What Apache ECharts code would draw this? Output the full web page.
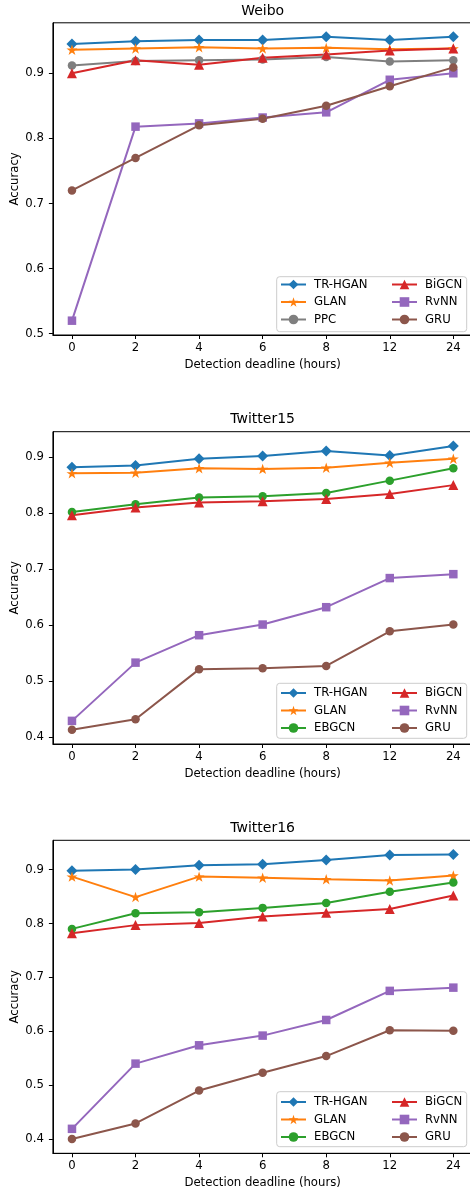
<!DOCTYPE html>
<html>
<head>
<meta charset="utf-8">
<script src="https://cdn.jsdelivr.net/npm/echarts@6/dist/echarts.min.js"></script>
<style>
  html, body { margin: 0; padding: 0; background: #fff; }
  #main { width: 470px; height: 1191px; }
</style>
</head>
<body>
<div id="main"></div>
<script>
var deadlines = ['0', '2', '4', '6', '8', '12', '24'];

// Weibo
var weiboTRHGAN = [0.945, 0.949, 0.951, 0.951, 0.956, 0.951, 0.956];
var weiboGLAN = [0.936, 0.938, 0.940, 0.938, 0.939, 0.937, 0.938];
var weiboPPC = [0.912, 0.919, 0.920, 0.921, 0.925, 0.918, 0.920];
var weiboBiGCN = [0.900, 0.920, 0.913, 0.924, 0.929, 0.935, 0.938];
var weiboRvNN = [0.520, 0.818, 0.823, 0.832, 0.840, 0.890, 0.900];
var weiboGRU = [0.720, 0.770, 0.820, 0.830, 0.850, 0.880, 0.909];

// Twitter15
var tw15TRHGAN = [0.882, 0.885, 0.897, 0.902, 0.911, 0.903, 0.920];
var tw15GLAN = [0.871, 0.872, 0.880, 0.879, 0.881, 0.890, 0.897];
var tw15EBGCN = [0.802, 0.816, 0.828, 0.830, 0.836, 0.858, 0.880];
var tw15BiGCN = [0.796, 0.810, 0.819, 0.821, 0.825, 0.834, 0.850];
var tw15RvNN = [0.429, 0.533, 0.582, 0.601, 0.632, 0.684, 0.691];
var tw15GRU = [0.413, 0.432, 0.521, 0.523, 0.527, 0.589, 0.601];

// Twitter16
var tw16TRHGAN = [0.898, 0.900, 0.908, 0.910, 0.918, 0.927, 0.928];
var tw16GLAN = [0.887, 0.849, 0.887, 0.885, 0.882, 0.880, 0.889];
var tw16EBGCN = [0.790, 0.819, 0.821, 0.829, 0.838, 0.859, 0.876];
var tw16BiGCN = [0.782, 0.797, 0.801, 0.813, 0.820, 0.827, 0.852];
var tw16RvNN = [0.419, 0.540, 0.574, 0.592, 0.621, 0.675, 0.681];
var tw16GRU = [0.400, 0.429, 0.490, 0.523, 0.554, 0.602, 0.601];

var yTicksWeibo = [0.5, 0.6, 0.7, 0.8, 0.9];
var yTicksTwitter = [0.4, 0.5, 0.6, 0.7, 0.8, 0.9];

var FONT = 'DejaVu Sans';
var STAR = 'path://M0,-100 L22.45,-30.9 L95.11,-30.9 L36.33,11.8 L58.78,80.9 L0,38.2 L-58.78,80.9 L-36.33,11.8 L-95.11,-30.9 L-22.45,-30.9 Z';

var styles = {
  'TR-HGAN': { color: '#1f77b4', symbol: 'diamond', size: 11 },
  'GLAN': { color: '#ff7f0e', symbol: STAR, size: 11 },
  'PPC': { color: '#7f7f7f', symbol: 'circle', size: 8.5 },
  'EBGCN': { color: '#2ca02c', symbol: 'circle', size: 8.5 },
  'BiGCN': { color: '#d62728', symbol: 'triangle', size: 10 },
  'RvNN': { color: '#9467bd', symbol: 'rect', size: 8.5 },
  'GRU': { color: '#8c564b', symbol: 'circle', size: 8.5 }
};

var panels = [
  { title: 'Weibo', top: 22.8, height: 312.2, min: 0.498, max: 0.9775, ticks: yTicksWeibo, titleTop: 4.5, legendTop: 278.5, boxTop: 276.7,
    lines: [['TR-HGAN', weiboTRHGAN], ['GLAN', weiboGLAN], ['PPC', weiboPPC], ['BiGCN', weiboBiGCN], ['RvNN', weiboRvNN], ['GRU', weiboGRU]] },
  { title: 'Twitter15', top: 431.7, height: 312.3, min: 0.3877, max: 0.9454, ticks: yTicksTwitter, titleTop: 412.5, legendTop: 687, boxTop: 683.3,
    lines: [['TR-HGAN', tw15TRHGAN], ['GLAN', tw15GLAN], ['EBGCN', tw15EBGCN], ['BiGCN', tw15BiGCN], ['RvNN', tw15RvNN], ['GRU', tw15GRU]] },
  { title: 'Twitter16', top: 840.3, height: 313, min: 0.3736, max: 0.9544, ticks: yTicksTwitter, titleTop: 821, legendTop: 1096, boxTop: 1091.7,
    lines: [['TR-HGAN', tw16TRHGAN], ['GLAN', tw16GLAN], ['EBGCN', tw16EBGCN], ['BiGCN', tw16BiGCN], ['RvNN', tw16RvNN], ['GRU', tw16GRU]] }
];

var GRID_LEFT = 52.9, GRID_WIDTH = 419.5;
var textBase = { fontFamily: FONT, fontSize: 11.7, color: '#000' };

var option = {
  animation: false,
  backgroundColor: '#fff',
  title: [], grid: [], xAxis: [], yAxis: [], series: [], legend: [], graphic: []
};

panels.forEach(function (p, k) {
  option.title.push({
    text: p.title, left: GRID_LEFT + GRID_WIDTH / 2, top: p.titleTop, textAlign: 'center', padding: 0,
    textStyle: { fontFamily: FONT, fontSize: 14, fontWeight: 'normal', color: '#000' }
  });
  option.grid.push({
    left: GRID_LEFT, top: p.top, width: GRID_WIDTH, height: p.height,
    outerBoundsMode: 'none', containLabel: false,
    show: true, borderColor: '#000', borderWidth: 1, backgroundColor: 'transparent'
  });
  option.xAxis.push({
    type: 'value', gridIndex: k, min: -0.3, max: 6.3,
    name: 'Detection deadline (hours)', nameLocation: 'middle', nameGap: 23.5, nameMoveOverlap: false,
    nameTextStyle: textBase,
    splitLine: { show: false },
    axisLine: { show: true, onZero: false, lineStyle: { color: '#000', width: 1 } },
    axisTick: { show: true, length: 4, lineStyle: { color: '#000' }, customValues: [0, 1, 2, 3, 4, 5, 6] },
    axisLabel: Object.assign({ margin: 7, customValues: [0, 1, 2, 3, 4, 5, 6],
      formatter: function (v) { return deadlines[Math.round(v)]; } }, textBase)
  });
  option.yAxis.push({
    type: 'value', gridIndex: k, min: p.min, max: p.max,
    name: 'Accuracy', nameLocation: 'middle', nameGap: 32, nameMoveOverlap: false,
    nameTextStyle: textBase,
    splitLine: { show: false },
    axisLine: { show: true, onZero: false, lineStyle: { color: '#000', width: 1 } },
    axisTick: { show: true, length: 4, lineStyle: { color: '#000' }, customValues: p.ticks },
    axisLabel: Object.assign({ margin: 9, customValues: p.ticks,
      formatter: function (v) { return v.toFixed(1); } }, textBase)
  });
  p.lines.forEach(function (l) {
    var s = styles[l[0]];
    option.series.push({
      name: l[0], type: 'line', xAxisIndex: k, yAxisIndex: k,
      data: l[1].map(function (v, i) { return [i, v]; }),
      symbol: s.symbol, symbolSize: s.size, symbolKeepAspect: true, showAllSymbol: true,
      lineStyle: { color: s.color, width: 2 },
      itemStyle: { color: s.color, borderWidth: 0 },
      clip: false
    });
  });
  var names = p.lines.map(function (l) { return l[0]; });
  [[280, names.slice(0, 3)], [391, names.slice(3)]].forEach(function (c) {
    option.legend.push({
      orient: 'vertical', left: c[0], top: p.legendTop, padding: 0,
      data: c[1], itemWidth: 25, itemHeight: 12, itemGap: 5.5,
      selectedMode: false, z: 10,
      textStyle: Object.assign({ padding: [0, 0, 0, 3] }, textBase)
    });
  });
  option.graphic.push({
    type: 'rect', z: 5,
    shape: { x: 276.7, y: p.boxTop, width: 190, height: 55, r: 3 },
    style: { fill: 'rgba(255,255,255,0.8)', stroke: '#cccccc', lineWidth: 1 }
  });
});

var myChart = echarts.init(document.getElementById('main'));
myChart.setOption(option);
</script>
</body>
</html>
